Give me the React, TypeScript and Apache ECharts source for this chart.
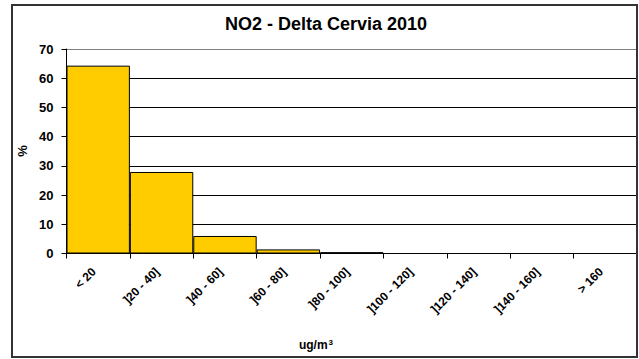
import React, { useEffect, useRef } from "react";
import * as echarts from "echarts";

const categories = ["< 20", "]20 - 40]", "]40 - 60]", "]60 - 80]", "]80 - 100]", "]100 - 120]", "]120 - 140]", "]140 - 160]", "> 160"];
const percentages = [64.3, 27.9, 6.0, 1.4, 0.45, 0, 0, 0, 0];
const titleText = "NO2 - Delta Cervia 2010";
const yAxisTitle = "%";
const xAxisTitle = "ug/m";
const xAxisTitleSup = "3";

export default function App() {
  const ref = useRef<HTMLDivElement>(null);
  useEffect(() => {
    if (!ref.current) return;
    const chart = echarts.init(ref.current, null, { renderer: "svg" });
    const font = "'Liberation Sans', Arial, sans-serif";
    chart.setOption({
      animation: false,
      backgroundColor: "#fff",
      grid: { left: 66.5, right: 2, top: 49, bottom: 105.5, containLabel: false },
      graphic: [
        {
          type: "rect",
          shape: { x: 12, y: 5, width: 625, height: 352 },
          style: { fill: "none", stroke: "#333", lineWidth: 2 },
          z: 10,
        },
        {
          type: "text",
          x: 326,
          y: 24,
          style: { text: titleText, font: `bold 18px ${font}`, fill: "#000", textAlign: "center", textVerticalAlign: "middle" },
        },
        {
          type: "text",
          x: 22,
          y: 151,
          rotation: Math.PI / 2,
          style: { text: yAxisTitle, font: `bold 13px ${font}`, fill: "#000", textAlign: "center", textVerticalAlign: "middle" },
        },
        {
          type: "text",
          x: 316,
          y: 345,
          style: {
            text: `${xAxisTitle}{sup|${xAxisTitleSup}}`,
            font: `bold 12px ${font}`,
            fill: "#000",
            textAlign: "center",
            textVerticalAlign: "middle",
            rich: { sup: { fontSize: 8, fontWeight: "bold", fontFamily: font, padding: [0, 0, 6, 1] } },
          },
        },
      ],
      xAxis: {
        type: "category",
        data: categories,
        boundaryGap: true,
        axisLine: { lineStyle: { color: "#000", width: 1 } },
        axisTick: { show: true, length: 5, inside: false, lineStyle: { color: "#000" } },
        axisLabel: {
          rotate: 45,
          interval: 0,
          margin: 12,
          padding: [0, 6, 0, 0],
          color: "#000",
          fontWeight: "bold",
          fontSize: 12,
          fontFamily: font,
        },
        splitLine: { show: false },
      },
      yAxis: {
        type: "value",
        min: 0,
        max: 70,
        interval: 10,
        axisLine: { show: true, lineStyle: { color: "#000", width: 1 } },
        axisTick: { show: true, length: 5, lineStyle: { color: "#000" } },
        axisLabel: { color: "#000", fontWeight: "bold", fontSize: 13, fontFamily: font, margin: 13 },
        splitLine: {
          show: true,
          lineStyle: { color: ["#000", "#000", "#000", "#000", "#000", "#000", "#000", "#808080"], width: 1 },
        },
      },
      series: [
        {
          type: "bar",
          data: percentages,
          barCategoryGap: "0%",
          itemStyle: { color: "#FFCC00", borderColor: "#000", borderWidth: 1 },
        },
      ],
    });
    return () => chart.dispose();
  }, []);
  return <div ref={ref} style={{ width: 639, height: 359, position: "absolute", left: 0, top: 0 }} />;
}
